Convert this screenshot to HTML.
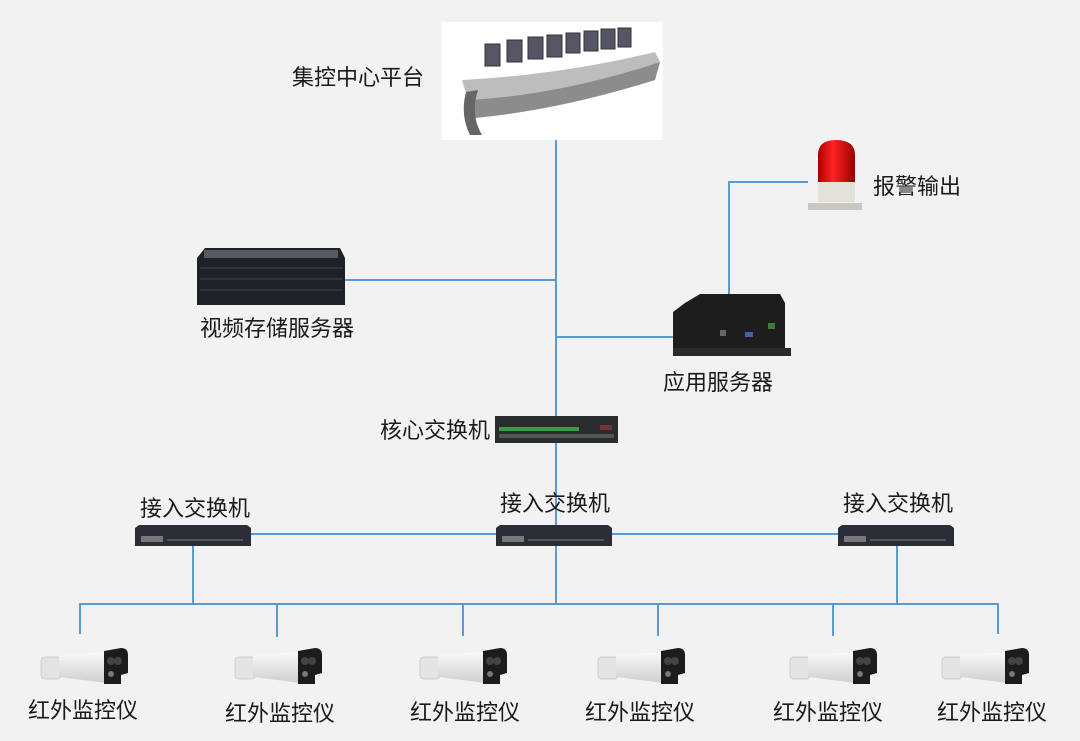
<!DOCTYPE html>
<html><head><meta charset="utf-8"><style>
html,body{margin:0;padding:0;background:#f2f2f2;}
svg{display:block}
text{font-family:"Liberation Sans","Noto Sans CJK SC",sans-serif;font-size:22px;fill:#1a1a1a;}
</style></head><body>
<svg width="1080" height="741" viewBox="0 0 1080 741" xmlns="http://www.w3.org/2000/svg">
<defs>
<linearGradient id="cb" x1="0" y1="0" x2="0" y2="1"><stop offset="0" stop-color="#fafafa"/><stop offset="1" stop-color="#cfcfcf"/></linearGradient>
<linearGradient id="red" x1="0" y1="0" x2="1" y2="0"><stop offset="0" stop-color="#a00"/><stop offset="0.4" stop-color="#f22"/><stop offset="1" stop-color="#900"/></linearGradient>
<g id="cam">
<rect x="0" y="10" width="20" height="22" rx="4" fill="#e4e4e4" stroke="#ccc"/>
<path d="M18 8 L66 5 L66 36 L18 30 Z" fill="url(#cb)"/>
<path d="M63 4 L80 1 Q87 1 87 8 L87 26 L80 28 L80 37 L63 37 Z" fill="#1c1c1c"/>
<circle cx="70" cy="14" r="4" fill="#444"/><circle cx="77" cy="14" r="4" fill="#444"/>
<circle cx="70" cy="27" r="3" fill="#777"/>
</g>
<g id="sw">
<path d="M0 3 L4 0 L112 0 L116 3 L116 21 L0 21 Z" fill="#2a2d35"/>
<rect x="6" y="11" width="22" height="6" fill="#777"/>
<rect x="32" y="14" width="76" height="2" fill="#555"/>
</g>
</defs>
<g stroke="#5b9bd5" stroke-width="2" fill="none">
<line x1="556" y1="140" x2="556" y2="525"/>
<line x1="345" y1="280" x2="556" y2="280"/>
<line x1="556" y1="337" x2="673" y2="337"/>
<polyline points="808,182 729,182 729,297"/>
<line x1="250" y1="534" x2="838" y2="534"/>
<line x1="193" y1="545" x2="193" y2="604"/>
<line x1="556" y1="545" x2="556" y2="604"/>
<line x1="897" y1="545" x2="897" y2="604"/>
<line x1="80" y1="604" x2="999" y2="604"/>
<line x1="80" y1="603" x2="80" y2="634"/>
<line x1="277" y1="603" x2="277" y2="637"/>
<line x1="463" y1="603" x2="463" y2="636"/>
<line x1="658" y1="603" x2="658" y2="636"/>
<line x1="833" y1="603" x2="833" y2="636"/>
<line x1="998" y1="603" x2="998" y2="634"/>
</g>
<!-- console -->
<rect x="441" y="22" width="222" height="118" fill="#fff"/>
<g fill="#556" stroke="#333" stroke-width="1">
<rect x="485" y="44" width="15" height="22"/><rect x="507" y="40" width="15" height="22"/><rect x="528" y="37" width="15" height="22"/><rect x="547" y="35" width="15" height="22"/><rect x="566" y="33" width="14" height="20"/><rect x="584" y="31" width="14" height="20"/><rect x="601" y="29" width="14" height="20"/><rect x="618" y="28" width="13" height="19"/>
</g>
<path d="M462 80 Q560 75 655 52 L660 62 Q560 95 468 100 Z" fill="#bdbdbd"/>
<path d="M468 100 Q560 95 660 62 L655 80 Q560 110 475 118 Z" fill="#8c8c8c"/>
<path d="M466 92 L478 90 Q470 115 482 135 L470 135 Q460 115 466 92Z" fill="#666"/>
<!-- storage server -->
<path d="M205 248 L340 248 L345 258 L345 305 L197 305 L197 258 Z" fill="#1e2127"/>
<rect x="204" y="250" width="134" height="8" fill="#555a63"/>
<g stroke="#3d4550" stroke-width="1"><line x1="200" y1="268" x2="343" y2="268"/><line x1="200" y1="279" x2="343" y2="279"/><line x1="200" y1="290" x2="343" y2="290"/></g>
<!-- alarm -->
<path d="M818 182 L818 155 Q818 140 836 140 Q855 140 855 155 L855 182 Z" fill="url(#red)"/>
<rect x="818" y="182" width="37" height="20" fill="#e2e2da"/>
<path d="M808 203 L862 203 L862 210 L808 210 Z" fill="#c8c8c0"/>
<!-- app server -->
<path d="M685 303 L700 294 L780 294 L785 303 L785 350 L673 350 L673 312 Z" fill="#1d1d1d"/>
<rect x="673" y="348" width="118" height="8" fill="#2a2a2a"/>
<rect x="720" y="330" width="6" height="6" fill="#666"/><rect x="745" y="332" width="8" height="5" fill="#4a60a0"/><rect x="768" y="323" width="7" height="6" fill="#3a7a3a"/>
<!-- core switch -->
<rect x="495" y="416" width="123" height="27" fill="#2a2d2e"/>
<rect x="499" y="427" width="80" height="4" fill="#3a9a4a"/>
<rect x="499" y="434" width="115" height="4" fill="#555"/>
<rect x="600" y="425" width="12" height="5" fill="#733"/>
<use href="#sw" x="135" y="525"/>
<use href="#sw" x="496" y="525"/>
<use href="#sw" x="838" y="525"/>
<use href="#cam" x="41" y="647"/>
<use href="#cam" x="235" y="647"/>
<use href="#cam" x="420" y="647"/>
<use href="#cam" x="598" y="647"/>
<use href="#cam" x="790" y="647"/>
<use href="#cam" x="942" y="647"/>
<text x="292" y="85">集控中心平台</text>
<text x="873" y="194">报警输出</text>
<text x="200" y="336">视频存储服务器</text>
<text x="663" y="390">应用服务器</text>
<text x="380" y="438">核心交换机</text>
<text x="140" y="516">接入交换机</text>
<text x="500" y="511">接入交换机</text>
<text x="843" y="511">接入交换机</text>
<text x="28" y="718">红外监控仪</text>
<text x="225" y="721">红外监控仪</text>
<text x="410" y="720">红外监控仪</text>
<text x="585" y="720">红外监控仪</text>
<text x="773" y="720">红外监控仪</text>
<text x="937" y="720">红外监控仪</text>
</svg>
</body></html>
